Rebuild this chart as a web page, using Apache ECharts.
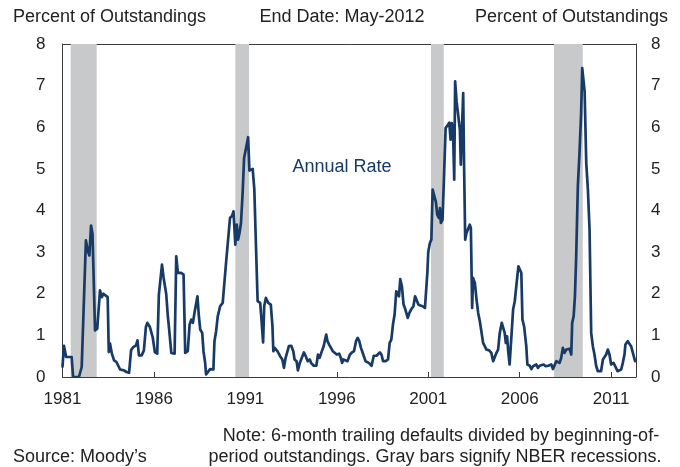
<!DOCTYPE html>
<html>
<head>
<meta charset="utf-8">
<script src="https://cdn.jsdelivr.net/npm/echarts@6/dist/echarts.min.js"></script>
<style>
html,body{margin:0;padding:0;background:#fff;}
#chart{width:680px;height:467px;}
</style>
</head>
<body>
<div id="chart"></div>
<script>
// Decimal-year dates and annual default rate (percent of outstandings)
var dates = [
1981.00,1981.08,1981.20,1981.50,1981.58,1981.90,1982.05,1982.15,1982.28,1982.38,1982.47,1982.56,1982.64,1982.78,1982.90,1983.00,
1983.05,1983.15,1983.24,1983.35,1983.47,1983.53,1983.60,1983.70,1983.82,1983.95,1984.05,1984.15,1984.36,1984.50,1984.64,1984.75,
1984.87,1985.02,1985.10,1985.18,1985.33,1985.45,1985.56,1985.64,1985.78,1985.93,1986.05,1986.18,1986.27,1986.33,1986.44,1986.53,
1986.67,1986.76,1986.82,1986.95,1987.13,1987.22,1987.31,1987.49,1987.62,1987.71,1987.85,1987.95,1988.04,1988.13,1988.22,1988.31,
1988.38,1988.45,1988.53,1988.64,1988.71,1988.80,1988.85,1988.95,1989.07,1989.25,1989.31,1989.40,1989.49,1989.62,1989.76,1989.86,
1989.95,1990.04,1990.16,1990.27,1990.35,1990.45,1990.53,1990.60,1990.68,1990.76,1990.85,1990.93,1991.00,1991.15,1991.22,1991.30,
1991.40,1991.49,1991.58,1991.67,1991.81,1991.88,1991.97,1992.03,1992.12,1992.25,1992.39,1992.48,1992.53,1992.60,1992.75,1992.90,
1993.02,1993.11,1993.20,1993.29,1993.38,1993.51,1993.62,1993.69,1993.80,1993.87,1993.98,1994.07,1994.20,1994.29,1994.41,1994.52,
1994.59,1994.74,1994.88,1994.97,1995.06,1995.15,1995.28,1995.42,1995.49,1995.58,1995.68,1995.78,1995.87,1996.00,1996.13,1996.22,
1996.29,1996.36,1996.45,1996.58,1996.72,1996.83,1996.94,1997.05,1997.14,1997.23,1997.32,1997.41,1997.50,1997.57,1997.66,1997.75,
1997.90,1998.02,1998.17,1998.26,1998.35,1998.44,1998.53,1998.67,1998.80,1998.89,1998.98,1999.07,1999.16,1999.25,1999.34,1999.40,
1999.47,1999.56,1999.65,1999.75,1999.88,1999.97,2000.06,2000.19,2000.28,2000.37,2000.46,2000.57,2000.69,2000.82,2000.88,2000.95,
2001.00,2001.09,2001.17,2001.24,2001.33,2001.42,2001.49,2001.58,2001.64,2001.69,2001.78,2001.85,2001.95,2002.04,2002.15,2002.22,
2002.29,2002.36,2002.42,2002.47,2002.55,2002.64,2002.73,2002.78,2002.85,2002.91,2002.96,2003.02,2003.09,2003.18,2003.27,2003.33,
2003.40,2003.45,2003.55,2003.64,2003.73,2003.82,2003.91,2004.00,2004.09,2004.18,2004.33,2004.45,2004.55,2004.64,2004.73,2004.82,
2004.91,2005.02,2005.09,2005.18,2005.24,2005.31,2005.38,2005.45,2005.55,2005.64,2005.73,2005.82,2005.87,2005.93,2006.00,2006.09,
2006.15,2006.24,2006.33,2006.36,2006.42,2006.55,2006.64,2006.73,2006.82,2006.91,2007.00,2007.09,2007.18,2007.31,2007.42,2007.55,
2007.64,2007.73,2007.82,2007.91,2008.00,2008.09,2008.18,2008.27,2008.36,2008.45,2008.55,2008.64,2008.73,2008.82,2008.87,2008.95,
2009.02,2009.09,2009.18,2009.27,2009.36,2009.42,2009.47,2009.55,2009.64,2009.73,2009.82,2009.91,2010.00,2010.09,2010.18,2010.27,
2010.36,2010.45,2010.55,2010.64,2010.73,2010.82,2010.91,2011.00,2011.13,2011.22,2011.35,2011.45,2011.55,2011.64,2011.73,2011.78,
2011.91,2012.00,2012.09,2012.18,2012.31
];
var rates = [
0.25,0.75,0.48,0.48,0.00,0.00,0.24,0.28,3.28,3.04,2.92,3.64,3.44,1.12,1.16,1.20,
2.08,1.92,2.00,1.96,1.92,0.60,0.80,0.56,0.40,0.36,0.36,0.18,0.16,0.12,0.10,0.64,
0.72,0.76,0.88,0.52,0.52,0.64,1.20,1.30,1.20,0.96,0.60,0.56,1.98,1.96,2.70,2.38,
2.00,1.46,1.20,0.58,0.56,2.90,2.50,2.50,2.46,0.58,0.62,1.26,1.38,1.30,1.55,1.55,
1.94,1.50,1.14,1.06,0.62,0.34,0.06,0.06,0.19,0.18,0.86,1.10,1.46,1.70,1.78,1.78,
2.78,2.82,3.82,3.87,3.98,3.18,3.66,3.30,3.46,3.70,4.42,5.26,5.42,5.76,4.96,4.98,
5.00,4.50,3.14,1.82,1.78,1.38,0.83,1.70,1.90,1.78,1.74,1.22,0.62,0.70,0.62,0.50,
0.42,0.22,0.46,0.46,0.74,0.75,0.62,0.42,0.38,0.16,0.34,0.38,0.59,0.51,0.38,0.42,
0.34,0.27,0.27,0.54,0.46,0.58,0.74,1.02,0.86,0.78,0.74,0.62,0.59,0.54,0.56,0.46,
0.34,0.42,0.38,0.38,0.54,0.59,0.62,0.86,0.94,0.86,0.70,0.59,0.60,0.38,0.38,0.34,
0.27,0.51,0.51,0.54,0.59,0.54,0.38,0.38,0.42,0.82,0.90,1.26,1.50,2.06,2.10,1.94,
2.35,2.18,1.74,1.62,1.42,1.54,1.62,1.70,1.94,1.98,1.74,1.72,1.70,1.66,1.66,2.50,
3.00,3.22,3.30,4.50,4.50,4.20,3.90,3.82,4.06,3.70,3.78,4.66,5.98,6.02,6.11,5.70,
6.10,5.80,4.74,7.10,6.62,6.60,5.94,5.10,5.08,6.82,5.06,3.30,3.46,3.42,3.66,3.58,
1.66,2.38,2.26,1.86,1.54,1.34,1.30,0.82,0.74,0.66,0.64,0.58,0.38,0.42,0.58,0.66,
1.06,1.30,1.26,1.06,0.82,0.98,0.58,0.30,0.30,1.62,1.82,1.80,2.42,2.66,2.64,2.50,
1.38,1.22,1.18,0.74,0.30,0.27,0.19,0.26,0.22,0.30,0.22,0.27,0.24,0.30,0.26,0.27,
0.26,0.30,0.19,0.18,0.38,0.36,0.34,0.46,0.70,0.58,0.66,0.62,0.68,0.54,1.30,1.46,
1.94,2.90,4.58,5.38,6.34,7.42,7.38,6.86,5.14,4.50,3.54,1.06,0.74,0.54,0.27,0.14,
0.12,0.14,0.42,0.44,0.54,0.66,0.54,0.30,0.34,0.26,0.14,0.11,0.18,0.34,0.54,0.78,
0.86,0.82,0.74,0.70,0.38
];
// NBER recessions (decimal years)
var recessionStart = [1981.45, 1990.45, 2001.15, 2007.88];
var recessionEnd   = [1982.87, 1991.20, 2001.85, 2009.45];
var yTicks = [0,1,2,3,4,5,6,7,8];
var xTickYears = [1981,1986,1991,1996,2001,2006,2011];

var lineData = dates.map(function(d,i){ return [d, rates[i]]; });
var areas = recessionStart.map(function(s,i){ return [{xAxis:s},{xAxis:recessionEnd[i]}]; });

var FONT = 'Liberation Sans';
var TXT = '#222222';
var NAVY = '#183a66';
var AXC = '#3a3a3a';
var TFONT = '18px "Liberation Sans"';

var chart = echarts.init(document.getElementById('chart'), null, {renderer:'canvas'});
chart.setOption({
  animation:false,
  backgroundColor:'#ffffff',
  grid:{left:62.5, right:44, top:44, bottom:90, containLabel:false},
  xAxis:[{
    type:'value', min:1981, max:2012.36, interval:5, position:'bottom',
    axisLine:{show:true, onZero:false, lineStyle:{color:AXC, width:1}},
    axisTick:{show:true, inside:true, length:5, lineStyle:{color:AXC}},
    splitLine:{show:false},
    axisLabel:{show:true, margin:14, fontFamily:FONT, fontSize:17, color:TXT, showMaxLabel:false,
      formatter:function(v){ return xTickYears.indexOf(Math.round(v))>=0 && Math.abs(v-Math.round(v))<1e-6 ? String(Math.round(v)) : ''; }}
  },{
    type:'value', min:1981, max:2012.36, position:'top',
    axisLine:{show:true, onZero:false, lineStyle:{color:AXC, width:1}},
    axisTick:{show:false}, axisLabel:{show:false}, splitLine:{show:false}
  }],
  yAxis:[{
    type:'value', min:0, max:8, interval:1, position:'left',
    axisLine:{show:true, onZero:false, lineStyle:{color:AXC, width:1}},
    axisTick:{show:false}, splitLine:{show:false},
    axisLabel:{margin:17, fontFamily:FONT, fontSize:17, color:TXT,
      formatter:function(v){ return yTicks.indexOf(v)>=0 ? String(v) : ''; }}
  },{
    type:'value', min:0, max:8, interval:1, position:'right',
    axisLine:{show:true, onZero:false, lineStyle:{color:AXC, width:1}},
    axisTick:{show:false}, splitLine:{show:false},
    axisLabel:{margin:15, fontFamily:FONT, fontSize:17, color:TXT,
      formatter:function(v){ return yTicks.indexOf(v)>=0 ? String(v) : ''; }}
  }],
  series:[{
    type:'line', xAxisIndex:0, yAxisIndex:0,
    data:lineData, showSymbol:false, symbol:'none', smooth:false,
    lineStyle:{color:NAVY, width:2.7, join:'round', cap:'round'},
    markArea:{silent:true, itemStyle:{color:'#c8c9cb'}, data:areas}
  }],
  graphic:[
    {type:'text', x:13, y:17.5, style:{text:'Percent of Outstandings', font:TFONT, fill:TXT, textAlign:'left', textVerticalAlign:'middle'}},
    {type:'text', x:342, y:17.5, style:{text:'End Date: May-2012', font:TFONT, fill:TXT, textAlign:'center', textVerticalAlign:'middle'}},
    {type:'text', x:668, y:17.5, style:{text:'Percent of Outstandings', font:TFONT, fill:TXT, textAlign:'right', textVerticalAlign:'middle'}},
    {type:'text', x:342, y:167, style:{text:'Annual Rate', font:TFONT, fill:NAVY, textAlign:'center', textVerticalAlign:'middle'}},
    {type:'text', x:13, y:457, style:{text:'Source: Moody\u2019s', font:TFONT, fill:TXT, textAlign:'left', textVerticalAlign:'middle'}},
    {type:'text', x:441, y:436, style:{text:'Note: 6-month trailing defaults divided by beginning-of-', font:TFONT, fill:TXT, textAlign:'center', textVerticalAlign:'middle'}},
    {type:'text', x:435, y:457, style:{text:'period outstandings. Gray bars signify NBER recessions.', font:TFONT, fill:TXT, textAlign:'center', textVerticalAlign:'middle'}}
  ]
});
</script>
</body>
</html>
